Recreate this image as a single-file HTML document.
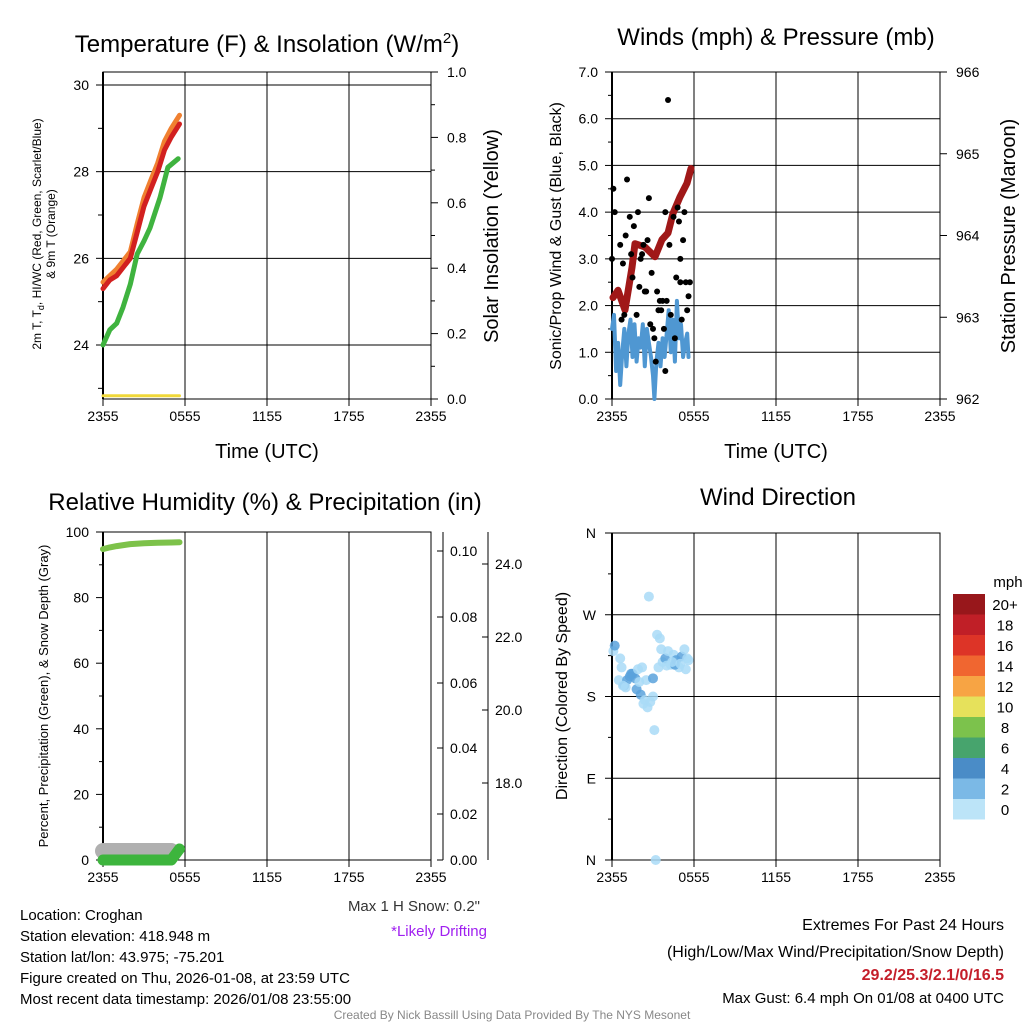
<!DOCTYPE html>
<html><head><meta charset="utf-8"><style>
body{margin:0;background:#fff;width:1024px;height:1024px;overflow:hidden}
svg{font-family:"Liberation Sans",sans-serif}
</style></head><body>
<svg id="c" width="1024" height="1024" xmlns="http://www.w3.org/2000/svg"></svg>
<script>
// ---- data ----
const xTickLabels=["2355","0555","1155","1755","2355"];
const tempHours=[0,0.5,1,1.5,2,2.5,3,3.5,4,4.5,5,5.6];
const tempRed=[25.3,25.5,25.6,25.8,26.0,26.6,27.2,27.6,28.0,28.5,28.8,29.1];
const tempOrange=[25.45,25.6,25.75,25.95,26.15,26.8,27.4,27.8,28.2,28.7,29.0,29.3];
const dewHours=[0,0.5,1,1.46,2,2.5,3,3.44,4.17,4.75,5.5];
const dewGreen=[24.0,24.35,24.5,24.87,25.4,26.1,26.4,26.7,27.4,28.1,28.3];
const insolHours=[0,5.6];
const insolVals=[0.01,0.01];
const presHours=[0.07,0.44,0.95,1.46,1.68,2.4,3.15,3.66,4.1,4.46,4.97,5.49,5.78];
const presVals=[963.24,963.33,963.09,963.61,963.9,963.86,963.74,963.95,964.03,964.27,964.47,964.64,964.82];
const windHours=[0,0.15,0.3,0.45,0.6,0.75,0.9,1.05,1.2,1.35,1.5,1.65,1.8,1.95,2.1,2.25,2.4,2.55,2.7,2.85,3.0,3.1,3.25,3.4,3.55,3.7,3.85,4.0,4.15,4.3,4.45,4.6,4.75,4.9,5.05,5.2,5.35,5.5,5.6];
const windVals=[1.5,1.8,0.6,1.2,0.3,1.0,1.5,0.7,1.4,1.7,0.9,1.6,0.8,1.3,1.1,1.6,0.7,1.5,1.2,0.9,0.5,0.0,0.8,1.2,0.7,1.3,0.9,1.4,1.9,1.0,1.7,0.8,2.1,1.3,1.6,0.9,1.2,1.4,0.9];
const gustHours=[0.0,0.1,0.2,0.6,0.7,0.8,0.9,1.1,1.3,1.4,1.5,1.6,1.8,1.9,2.0,2.1,2.3,2.4,2.5,2.6,2.7,2.8,2.9,3.0,3.1,3.2,3.3,3.4,3.5,3.6,3.7,3.8,3.9,4.0,4.1,4.2,4.3,4.5,4.6,4.7,4.8,4.9,5.0,5.1,5.2,5.3,5.4,5.5,5.6,5.7,5.0,2.2,3.9,1.0];
const gustVals=[3.0,4.5,4.0,3.3,1.7,2.9,1.8,4.7,3.9,3.1,2.6,3.7,1.8,4.0,2.4,3.0,3.3,2.3,2.3,3.4,4.3,1.6,2.7,1.5,1.3,0.8,2.3,1.9,2.1,1.9,2.1,1.5,0.6,2.1,6.4,3.3,1.8,3.9,1.3,2.6,4.1,3.8,2.5,1.7,3.4,4.0,2.5,1.9,2.2,2.5,3.0,3.1,4.0,3.5];
const rhHours=[0,0.5,1,2,3,4,5,5.6];
const rhVals=[94.8,95.3,95.7,96.3,96.6,96.7,96.8,96.9];
const precipHours=[0,5.0,5.6];
const precipVals=[0,0,0.5];
const snowHours=[0,5.0];
const snowVals=[16.5,16.5];
const dirHours=[0.1,0.2,0.6,0.7,0.5,0.9,1.1,1.3,1.5,1.7,1.8,2.0,2.2,2.5,2.6,2.8,3.0,3.1,3.3,3.5,3.7,3.9,4.1,4.3,4.5,4.7,4.9,5.1,5.3,5.5,5.6,3.2,2.7,1.0,1.4,2.1,2.4,4.0,4.6,5.4,3.4,3.6,1.9,0.8,2.3,4.4,5.0,3.0];
const dirVals=[230,236,222,212,198,192,198,202,205,200,188,196,212,198,168,174,200,143,248,244,218,222,230,215,226,220,212,224,232,222,220,0,290,190,205,182,176,214,215,210,212,232,210,192,172,218,216,180];
const dirSpeed=[2,4,2,2,2,4,4,4,4,4,4,2,2,2,2,2,4,2,2,2,2,4,2,2,2,4,2,4,2,2,2,2,2,2,4,4,2,2,4,2,2,2,2,2,2,2,2,2];
const cbLabels=["20+","18","16","14","12","10","8","6","4","2","0"];
const cbColors=["#98171b","#c01f27","#dd3427","#f06630","#f7a444","#e6e15b","#7cc24c","#47a46d","#4a8cc7","#7bb9e6","#bce4f8"];

const NS="http://www.w3.org/2000/svg";
const svg=document.getElementById('c');
function el(t,a,p){const e=document.createElementNS(NS,t);for(const k in a)e.setAttribute(k,a[k]);(p||svg).appendChild(e);return e;}
function txt(x,y,s,size,anchor,extra){const e=el('text',Object.assign({x:x,y:y,'font-size':size,'text-anchor':anchor||'middle',fill:'#000'},extra||{}));e.textContent=s;return e;}
function mkX(x0,w){return h=>x0+h*w/24;}
function lin(v0,v1,p0,p1){return v=>p0+(v-v0)*(p1-p0)/(v1-v0);}
function poly(xs,ys,fx,fy,col,w,name){const p=xs.map((h,i)=>fx(h).toFixed(1)+','+fy(ys[i]).toFixed(1)).join(' ');const e=el('polyline',{points:p,fill:'none',stroke:col,'stroke-width':w,'stroke-linecap':'round','stroke-linejoin':'round'});

return e;}
function frame(x0,y0,w,h,name){const g=el('g',{});


for(let i=1;i<4;i++)el('line',{x1:x0+i*w/4,y1:y0,x2:x0+i*w/4,y2:y0+h,stroke:'#000','stroke-width':1},g);
el('rect',{x:x0,y:y0,width:w,height:h,fill:'none',stroke:'#000','stroke-width':1},g);
el('line',{x1:x0,y1:y0,x2:x0,y2:y0+h,stroke:'#000','stroke-width':2},g);
for(let i=0;i<5;i++){el('line',{x1:x0+i*w/4,y1:y0+h,x2:x0+i*w/4,y2:y0+h+7,stroke:'#000'},g);txt(x0+i*w/4,y0+h+22,xTickLabels[i],14);}
return g;}
function hgrid(x0,w,y){el('line',{x1:x0,y1:y,x2:x0+w,y2:y,stroke:'#000','stroke-width':1});}
function rotText(x,y,s,size){return txt(x,y,s,size,'middle',{transform:`rotate(-90 ${x} ${y})`});}

// ---- panel 1 ----
{const x0=103,y0=72,w=328,h=327;const fx=mkX(x0,w);const fy=lin(24,30,345,85);const fi=lin(0,1,399,72);
frame(x0,y0,w,h,'temperature-plot');
[24,26,28,30].forEach(v=>{hgrid(x0,w,fy(v));txt(x0-14,fy(v)+5,String(v),14,'end');el('line',{x1:x0-7,y1:fy(v),x2:x0,y2:fy(v),stroke:'#000'});});
[23,25,27,29].forEach(v=>el('line',{x1:x0-5,y1:fy(v),x2:x0,y2:fy(v),stroke:'#000'}));
[0,0.2,0.4,0.6,0.8,1.0].forEach(v=>{el('line',{x1:x0+w,y1:fi(v),x2:x0+w+7,y2:fi(v),stroke:'#000'});txt(x0+w+16,fi(v)+5,v.toFixed(1),14,'start');});
[0.1,0.3,0.5,0.7,0.9].forEach(v=>el('line',{x1:x0+w,y1:fi(v),x2:x0+w+4,y2:fi(v),stroke:'#000'}));
poly(insolHours,insolVals,fx,fi,'#f0d83a',3,'insolation-line');
poly(dewHours,dewGreen,fx,fy,'#3fb33f',5,'dewpoint-line');
poly(tempHours,tempOrange,fx,fy,'#f08030',5,'temp-9m-line');
poly(tempHours,tempRed,fx,fy,'#d22020',5,'temp-2m-line');
txt(267,52,'Temperature (F) & Insolation (W/m',24,'middle').innerHTML='Temperature (F) &amp; Insolation (W/m<tspan dy="-9" font-size="15">2</tspan><tspan dy="9">)</tspan>';
txt(267,458,'Time (UTC)',20);
rotText(498,236,'Solar Insolation (Yellow)',20);
rotText(41,234,'2m T, Td, HI/WC (Red, Green, Scarlet/Blue)',12).innerHTML='2m T, T<tspan dy="3" font-size="9">d</tspan><tspan dy="-3">, HI/WC (Red, Green, Scarlet/Blue)</tspan>';
rotText(55,234,'& 9m T (Orange)',12);}

// ---- panel 2 ----
{const x0=612,y0=72,w=328,h=327;const fx=mkX(x0,w);const fy=lin(0,7,399,72);const fp=lin(962,966,399,72);
frame(x0,y0,w,h,'winds-plot');
for(let v=0;v<=7;v++){if(v>0)hgrid(x0,w,fy(v));el('line',{x1:x0-7,y1:fy(v),x2:x0,y2:fy(v),stroke:'#000'});txt(x0-14,fy(v)+5,v.toFixed(1),14,'end');if(v<7)el('line',{x1:x0-4,y1:fy(v+0.5),x2:x0,y2:fy(v+0.5),stroke:'#000'});}
for(let p=962;p<=966;p++){el('line',{x1:x0+w,y1:fp(p),x2:x0+w+7,y2:fp(p),stroke:'#000'});txt(x0+w+16,fp(p)+5,String(p),14,'start');}
poly(windHours,windVals,fx,fy,'#4f97d2',4,'wind-line');
poly(presHours,presVals,fx,fp,'#a01818',7,'pressure-line');
gustHours.forEach((hh,i)=>{const c=el('circle',{cx:fx(hh),cy:fy(gustVals[i]),r:3,fill:'#000'});

});
txt(776,45,'Winds (mph) & Pressure (mb)',24);
txt(776,458,'Time (UTC)',20);
rotText(561,236,'Sonic/Prop Wind & Gust (Blue, Black)',16);
rotText(1015,236,'Station Pressure (Maroon)',20);}

// ---- panel 3 ----
{const x0=103,y0=532,w=328,h=328;const fx=mkX(x0,w);const fy=lin(0,100,860,532);const fs=lin(18,24,783,564);
frame(x0,y0,w,h,'humidity-plot');
[0,20,40,60,80,100].forEach(v=>{el('line',{x1:x0-7,y1:fy(v),x2:x0,y2:fy(v),stroke:'#000'});txt(x0-14,fy(v)+5,String(v),14,'end');});
[10,30,50,70,90].forEach(v=>el('line',{x1:x0-4,y1:fy(v),x2:x0,y2:fy(v),stroke:'#000'}));
el('line',{x1:443,y1:532,x2:443,y2:860,stroke:'#000'});
const rl=[["0.10",551],["0.08",617],["0.06",683],["0.04",748],["0.02",814],["0.00",860]];
rl.forEach(r=>{el('line',{x1:443,y1:r[1],x2:437,y2:r[1],stroke:'#000'});txt(450,r[1]+5,r[0],14,'start');});
el('line',{x1:488,y1:532,x2:488,y2:860,stroke:'#000'});
[18,20,22,24].forEach(v=>{el('line',{x1:488,y1:fs(v),x2:482,y2:fs(v),stroke:'#000'});txt(495,fs(v)+5,v.toFixed(1),14,'start');});
poly(snowHours,snowVals.map(()=>0),fx,v=>851,'#b0b0b0',16,'snow-depth-line');
poly(precipHours,precipVals,fx,v=>860-v*22,'#3db53d',11,'precip-line');
poly(rhHours,rhVals,fx,fy,'#7dc24a',6,'rh-line');
txt(265,510,'Relative Humidity (%) & Precipitation (in)',24);
rotText(48,696,'Percent, Precipitation (Green), & Snow Depth (Gray)',13);
txt(480,911,'Max 1 H Snow: 0.2"',15,'end',{fill:'#333'});
txt(487,936,'*Likely Drifting',15,'end',{fill:'#a020f0'});}

// ---- panel 4 ----
{const x0=612,y0=533,w=328,h=327;const fx=mkX(x0,w);const fd=lin(0,360,860,533);
frame(x0,y0,w,h,'wind-direction-plot');
[[0,'N'],[90,'E'],[180,'S'],[270,'W'],[360,'N']].forEach(d=>{if(d[0]>0&&d[0]<360)hgrid(x0,w,fd(d[0]));el('line',{x1:x0-7,y1:fd(d[0]),x2:x0,y2:fd(d[0]),stroke:'#000'});txt(x0-16,fd(d[0])+5,d[1],14,'end');});
[45,135,225,315].forEach(v=>el('line',{x1:x0-4,y1:fd(v),x2:x0,y2:fd(v),stroke:'#000'}));
dirHours.forEach((hh,i)=>{const c=el('circle',{cx:fx(hh),cy:fd(dirVals[i]),r:5,fill:dirSpeed[i]>=4?'#5aa2dc':'#a9daf7','fill-opacity':0.85});

});
txt(778,505,'Wind Direction',24);
rotText(567,696,'Direction (Colored By Speed)',16);
const g=el('g',{});


txt(1008,587,'mph',15,'middle');
cbColors.forEach((c,i)=>{el('rect',{x:953,y:594+i*20.5,width:32,height:20.5,fill:c},g);txt(1005,610+i*20.5,cbLabels[i],15,'middle');});}

// ---- footer ----
const lines=["Location: Croghan","Station elevation: 418.948 m","Station lat/lon: 43.975; -75.201","Figure created on Thu, 2026-01-08, at 23:59 UTC","Most recent data timestamp: 2026/01/08 23:55:00"];
lines.forEach((s,i)=>txt(20,920+i*21,s,15,'start'));
txt(1004,930,'Extremes For Past 24 Hours',16,'end');
txt(1004,957,'(High/Low/Max Wind/Precipitation/Snow Depth)',16,'end');
txt(1004,980,'29.2/25.3/2.1/0/16.5',16,'end',{fill:'#c41e2a','font-weight':'bold'});
txt(1004,1003,'Max Gust: 6.4 mph On 01/08 at 0400 UTC',15,'end');
txt(512,1019,'Created By Nick Bassill Using Data Provided By The NYS Mesonet',12,'middle',{fill:'#888'});
</script>
</body></html>
